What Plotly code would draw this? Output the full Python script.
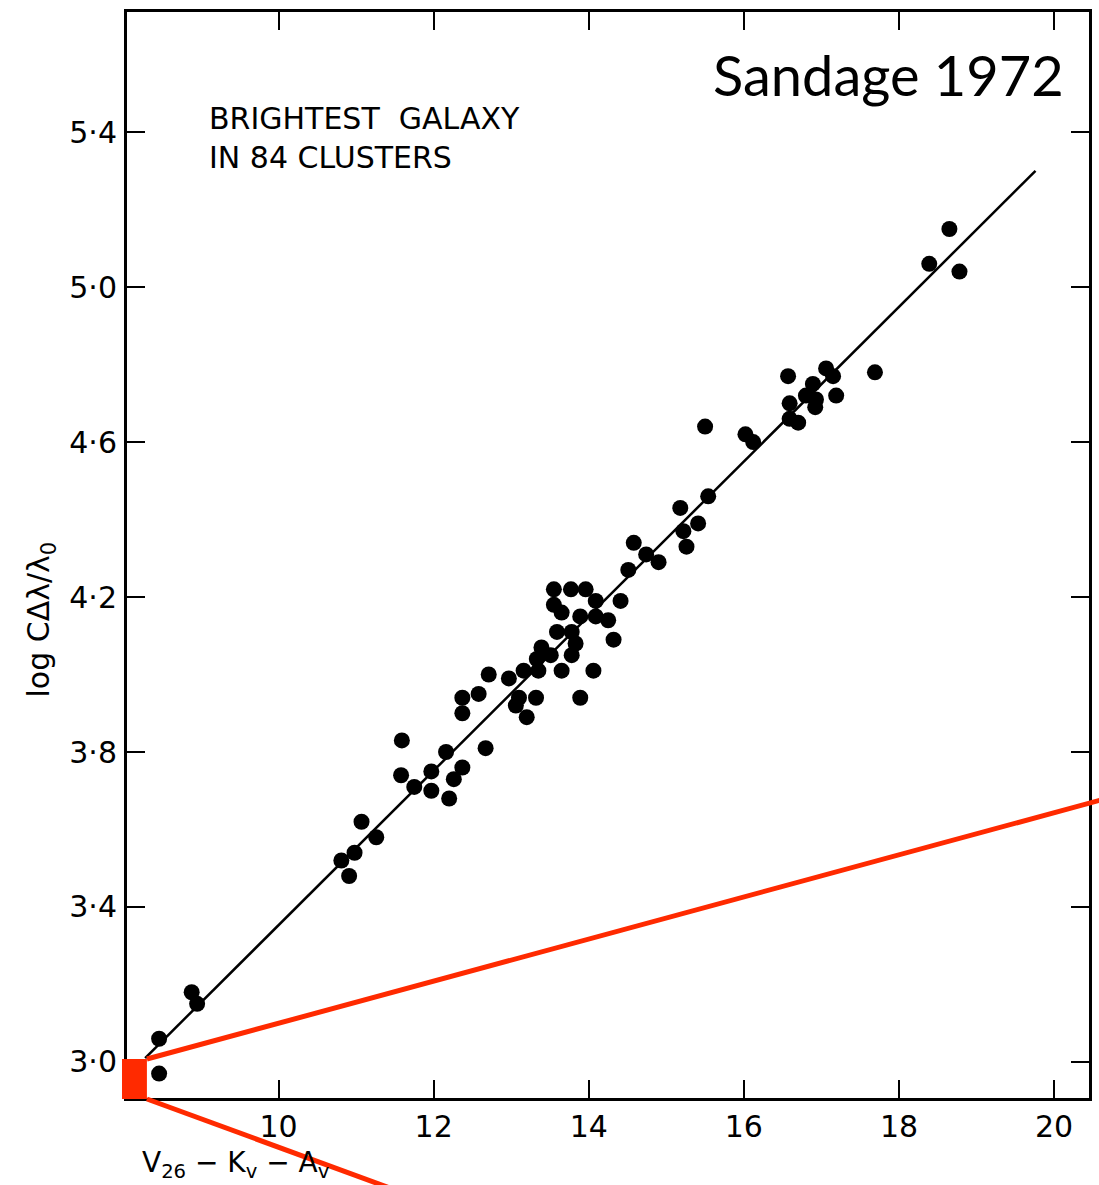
import plotly.graph_objects as go

# Hubble diagram: brightest galaxy in 84 clusters (corrected V magnitude vs log redshift)
mag = [8.88, 8.95, 8.46, 8.46,
       10.81, 10.98, 10.91, 11.07, 11.26,
       11.59, 11.58, 11.75, 11.97, 11.97, 12.16, 12.20, 12.26, 12.37,
       12.37, 12.58, 12.37, 12.67, 12.71, 12.97, 13.10, 13.06, 13.20,
       13.32, 13.16, 13.35, 13.65, 13.39, 13.33, 13.51,
       13.55, 13.77, 13.96, 14.09, 13.55, 13.65, 13.89, 14.09, 14.25,
       14.41, 14.32, 13.59, 13.78, 13.83, 13.78, 14.06, 13.89,
       14.51, 14.58, 14.74, 14.90, 15.18, 15.22, 15.26, 15.41, 15.54, 15.50,
       16.02, 16.12, 16.57, 16.59, 16.59, 16.70, 16.80, 16.89, 16.93,
       16.92, 17.06, 17.15, 17.19, 17.69,
       18.39, 18.65, 18.78]
log_cz = [3.18, 3.15, 3.06, 2.97,
          3.52, 3.54, 3.48, 3.62, 3.58,
          3.83, 3.74, 3.71, 3.75, 3.70, 3.80, 3.68, 3.73, 3.76,
          3.94, 3.95, 3.90, 3.81, 4.00, 3.99, 3.94, 3.92, 3.89,
          3.94, 4.01, 4.01, 4.01, 4.07, 4.04, 4.05,
          4.22, 4.22, 4.22, 4.19, 4.18, 4.16, 4.15, 4.15, 4.14,
          4.19, 4.09, 4.11, 4.11, 4.08, 4.05, 4.01, 3.94,
          4.27, 4.34, 4.31, 4.29, 4.43, 4.37, 4.33, 4.39, 4.46, 4.64,
          4.62, 4.60, 4.77, 4.70, 4.66, 4.65, 4.72, 4.75, 4.71,
          4.69, 4.79, 4.77, 4.72, 4.78,
          5.06, 5.15, 5.04]

# Fitted relation (slope 0.2)
fit_mag = [8.28, 19.76]
fit_log_cz = [3.01, 5.30]

x_ticks = [10, 12, 14, 16, 18, 20]
x_tick_text = ["10", "12", "14", "16", "18", "20"]
y_ticks = [3.0, 3.4, 3.8, 4.2, 4.6, 5.0, 5.4]
y_tick_text = ["3·0", "3·4", "3·8", "4·2", "4·6", "5·0", "5·4"]

RED = "#ff2a00"
FONT = "DejaVu Sans"

fig = go.Figure()
fig.add_trace(go.Scatter(x=fit_mag, y=fit_log_cz, mode="lines",
                         line=dict(color="black", width=2.5),
                         hoverinfo="skip", showlegend=False))
fig.add_trace(go.Scatter(x=mag, y=log_cz, mode="markers",
                         marker=dict(color="black", size=16, line=dict(width=0)),
                         showlegend=False))

axis_common = dict(showgrid=False, zeroline=False, showline=True,
                   linecolor="black", linewidth=3, mirror="ticks",
                   ticks="inside", ticklen=18, tickwidth=2, tickcolor="black",
                   tickfont=dict(family=FONT, size=30, color="black"))

fig.update_xaxes(range=[8.046, 20.45], tickvals=x_ticks, ticktext=x_tick_text,
                 ticklabelstandoff=0, **axis_common)
fig.update_yaxes(range=[2.907, 5.710], tickvals=y_ticks, ticktext=y_tick_text,
                 ticklabelstandoff=1, **axis_common)

fig.add_annotation(text="BRIGHTEST  GALAXY<br>IN 84 CLUSTERS",
                   xref="paper", yref="paper", x=0.083, y=0.920,
                   xanchor="left", yanchor="top", align="left", showarrow=False,
                   font=dict(family=FONT, size=30, color="black"))
fig.add_annotation(text="Sandage 1972",
                   xref="paper", yref="paper", x=0.976, y=0.975,
                   xanchor="right", yanchor="top", showarrow=False,
                   font=dict(family="Lato", size=56, color="black"))
fig.add_annotation(text="log CΔλ/λ<sub>0</sub>",
                   xref="paper", yref="paper", x=-0.090, y=0.441,
                   xanchor="center", yanchor="middle", textangle=-90,
                   showarrow=False,
                   font=dict(family=FONT, size=30, color="black"))
fig.add_annotation(text="V<sub>26</sub> − K<sub>v</sub> − A<sub>v</sub>",
                   xref="paper", yref="paper", x=0.0135, y=-0.042,
                   xanchor="left", yanchor="top", showarrow=False,
                   font=dict(family=FONT, size=28, color="black"))

# Zoom indicator: red box at the origin corner with two guide lines
fig.add_shape(type="rect", xref="paper", yref="paper",
              x0=-0.0052, x1=0.0207, y0=-0.0009, y1=0.0359,
              fillcolor=RED, line=dict(width=0))
fig.add_shape(type="line", xref="paper", yref="paper",
              x0=0.0207, y0=0.0359, x1=1.029, y1=0.2784,
              line=dict(color=RED, width=5))
fig.add_shape(type="line", xref="paper", yref="paper",
              x0=0.0207, y0=-0.0009, x1=0.2736, y1=-0.083,
              line=dict(color=RED, width=5))

fig.update_layout(width=1099, height=1185,
                  margin=dict(l=127, r=7, t=12, b=87),
                  paper_bgcolor="white", plot_bgcolor="white")

fig.write_html("out.html")
